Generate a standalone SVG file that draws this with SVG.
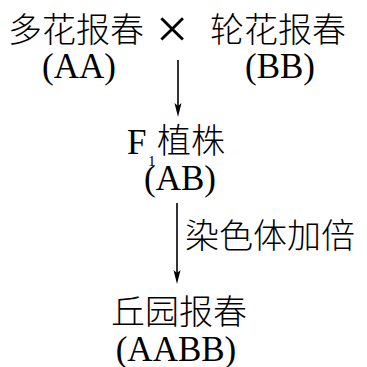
<svg xmlns="http://www.w3.org/2000/svg" width="367" height="367" viewBox="0 0 367 367">
<defs>
<style>
.cn{font-family:"Noto Sans CJK SC","Noto Sans",sans-serif;font-size:34px;font-weight:300;fill:#000}
.lt{font-family:"Liberation Serif","Times New Roman",serif;font-size:35px;fill:#000}
.ln{stroke:#000;stroke-width:1.6;fill:none}
.hd{fill:#000}
</style>
</defs>
<rect width="367" height="367" fill="#fff"/>
<g id="parent-a">
<text class="cn" x="8" y="42">多花报春</text>
<text class="lt" x="79" y="78" text-anchor="middle">(AA)</text>
</g>
<g id="cross">
<text class="lt" x="172" y="48" text-anchor="middle" style="font-size:58px">×</text>
</g>
<g id="parent-b">
<text class="cn" x="210" y="42">轮花报春</text>
<text class="lt" x="280" y="78" text-anchor="middle">(BB)</text>
</g>
<g id="f1">
<text class="lt" x="127" y="154">F</text>
<text class="lt" x="148" y="166" style="font-size:15px">1</text>
<text class="cn" x="157" y="153">植株</text>
<text class="lt" x="180" y="190" text-anchor="middle">(AB)</text>
</g>
<g id="result">
<text class="cn" x="111" y="324">丘园报春</text>
<text class="lt" x="176" y="361" text-anchor="middle">(AABB)</text>
</g>
<g id="connectors">
<line class="ln" x1="178" y1="60" x2="178" y2="110"/>
<path class="hd" d="M178,117 L174.5,103 L178,106 L181.5,103 Z"/>
<line class="ln" x1="177" y1="203" x2="177" y2="277"/>
<path class="hd" d="M177,284 L173.5,270 L177,273 L180.5,270 Z"/>
<text class="cn" x="185" y="248">染色体加倍</text>
</g>
</svg>
